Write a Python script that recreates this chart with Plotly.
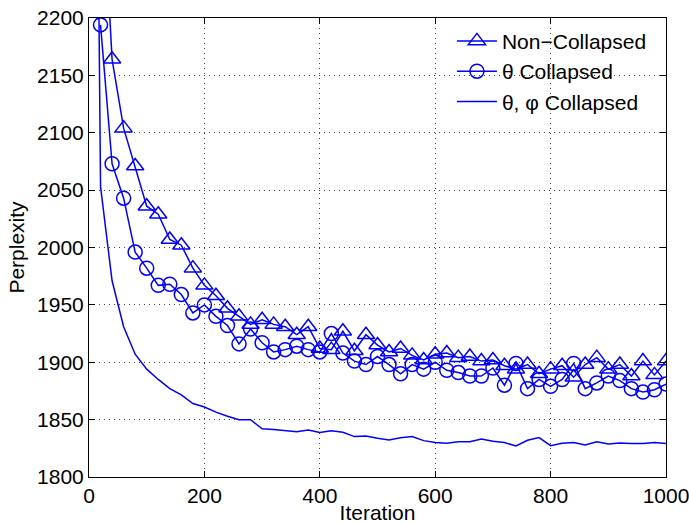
import plotly.graph_objects as go

# ---------------- data ----------------
iters = list(range(20, 1001, 20))

non_collapsed = [2350, 2164, 2104, 2071, 2036, 2029, 2007, 2002, 1982, 1967,
                 1958, 1947, 1940, 1933, 1937, 1933, 1931, 1924, 1931, 1912,
                 1911, 1927, 1910, 1924, 1915, 1909, 1912, 1906, 1902, 1907,
                 1908, 1904, 1905, 1901, 1902, 1897, 1894, 1898, 1890, 1894,
                 1897, 1887, 1898, 1904, 1894, 1898, 1888, 1901, 1889, 1901]

theta_collapsed = [2194, 2073, 2043, 1996, 1982, 1967, 1968, 1959, 1943, 1950,
                   1940, 1932, 1916, 1929, 1917, 1909, 1911, 1914, 1911, 1909,
                   1925, 1908, 1901, 1898, 1905, 1898, 1890, 1898, 1894, 1900,
                   1893, 1891, 1888, 1888, 1895, 1880, 1899, 1877, 1885, 1879,
                   1885, 1899, 1877, 1882, 1888, 1884, 1877, 1874, 1876, 1881]

theta_phi_iters = [10] + iters
theta_phi_collapsed = [2600, 2053, 1971, 1931, 1907, 1894, 1885, 1877, 1871.5, 1864,
                       1861, 1856.5, 1853, 1850, 1850, 1842, 1841.5, 1840.5, 1839.5, 1841,
                       1838.7, 1840.4, 1839, 1835.2, 1835.8, 1833.8, 1832.3, 1834.3, 1835.2, 1831.7,
                       1830, 1829.4, 1830.8, 1830.8, 1833.2, 1831.1, 1830, 1827, 1832, 1834.3,
                       1827.3, 1829.4, 1830, 1828, 1830.8, 1828.8, 1829.7, 1829.1, 1829.1, 1830,
                       1829.1]

x_ticks = [0, 200, 400, 600, 800, 1000]
y_ticks = [1800, 1850, 1900, 1950, 2000, 2050, 2100, 2150, 2200]

names = ["Non\u2212Collapsed", "\u03b8 Collapsed", "\u03b8, \u03c6 Collapsed"]

BLUE = "#0000ff"
FONT = "Liberation Sans, Arial, Helvetica, sans-serif"

fig = go.Figure()
fig.add_trace(go.Scatter(
    x=iters, y=non_collapsed, name=names[0], mode="lines+markers",
    line=dict(color=BLUE, width=1.5),
    marker=dict(symbol="triangle-up-open", size=15, color=BLUE,
                line=dict(color=BLUE, width=1.5)),
))
fig.add_trace(go.Scatter(
    x=iters, y=theta_collapsed, name=names[1], mode="lines+markers",
    line=dict(color=BLUE, width=1.5),
    marker=dict(symbol="circle-open", size=14, color=BLUE,
                line=dict(color=BLUE, width=1.5)),
))
fig.add_trace(go.Scatter(
    x=theta_phi_iters, y=theta_phi_collapsed, name=names[2], mode="lines",
    line=dict(color=BLUE, width=1.5),
))

axis_common = dict(
    showline=True, linecolor="black", linewidth=1, mirror="ticks",
    ticks="inside", ticklen=6, tickcolor="black", tickwidth=1,
    showgrid=True, gridcolor="#444444", gridwidth=1, griddash="1px,4px",
    zeroline=False, ticklabeloverflow="allow", automargin=False,
    tickfont=dict(family=FONT, size=21, color="black"),
)

fig.update_layout(
    width=689, height=524,
    margin=dict(l=89, r=23, t=18, b=47),
    paper_bgcolor="white", plot_bgcolor="white",
    font=dict(family=FONT, size=21, color="black"),
    showlegend=True,
    legend=dict(
        x=0.629, y=0.994, xanchor="left", yanchor="top",
        bgcolor="rgba(0,0,0,0)", borderwidth=0, itemwidth=40,
        font=dict(family=FONT, size=21, color="black"),
        tracegroupgap=0,
    ),
    xaxis=dict(range=[0, 1000], tickvals=x_ticks, ticklabelstandoff=0,
               title=dict(text="Iteration", font=dict(family=FONT, size=21), standoff=0),
               **axis_common),
    yaxis=dict(range=[1800, 2200], tickvals=y_ticks,
               title=dict(text="Perplexity", font=dict(family=FONT, size=21), standoff=6),
               **axis_common),
)

fig.write_html("out.html")
